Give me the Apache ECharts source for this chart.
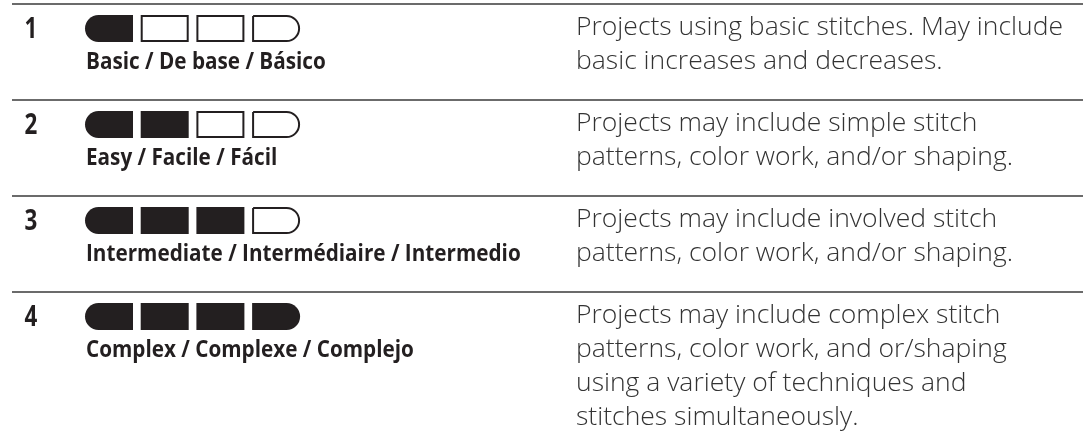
<!DOCTYPE html>
<html>
<head>
<meta charset="utf-8">
<script src="https://cdn.jsdelivr.net/npm/echarts@6/dist/echarts.min.js"></script>
<style>
html,body{margin:0;padding:0;background:#fff;}
#chart{width:1083px;height:447px;}
</style>
</head>
<body>
<div id="chart"></div>
<script>
const levels = ['1', '2', '3', '4'];
const levelNames = [
  'Basic / De base / Básico',
  'Easy / Facile / Fácil',
  'Intermediate / Intermédiaire / Intermedio',
  'Complex / Complexe / Complejo'
];
const filledBoxes = [1, 2, 3, 4];
const totalBoxes = 4;
const descriptions = [
  'Projects using basic stitches. May include\nbasic increases and decreases.',
  'Projects may include simple stitch\npatterns, color work, and/or shaping.',
  'Projects may include involved stitch\npatterns, color work, and/or shaping.',
  'Projects may include complex stitch\npatterns, color work, and or/shaping\nusing a variety of techniques and\nstitches simultaneously.'
];

const DARK = '#231f20';
const BODY = '"Open Sans", sans-serif';
const HEAD_FONT = '"Open Sans", sans-serif';

const chart = echarts.init(document.getElementById('chart'), null, {renderer: 'canvas'});

function condText(txt, x, y, size, align, scale) {
  return {
    type: 'text',
    x: x, y: y, scaleX: scale,
    style: {
      text: txt, x: 0, y: 0,
      fontFamily: HEAD_FONT, fontWeight: 'bold', fontSize: size,
      fill: DARK, align: align, verticalAlign: 'middle'
    }
  };
}

function renderItem(params, api) {
  const row = api.value(1);
  const filled = api.value(2);
  const top = api.coord([0, row])[1];
  const children = [];
  children.push({
    type: 'line',
    shape: {x1: 12, y1: top, x2: 1083, y2: top},
    style: {stroke: '#3a3a3a', lineWidth: 1.5}
  });
  children.push(condText(levels[row], 31, top + 26, 28, 'center', 0.8));
  const bx = 85, bw = 48, bstep = 55.7, bh = 27, by = top + 11, rad = 13.5;
  for (let k = 0; k < totalBoxes; k++) {
    const x = bx + k * bstep;
    let r = 0;
    if (k === 0) r = [rad, 0, 0, rad];
    else if (k === totalBoxes - 1) r = [0, rad, rad, 0];
    if (k < filled) {
      children.push({
        type: 'rect',
        shape: {x: x, y: by, width: bw, height: bh, r: r},
        style: {fill: DARK}
      });
    } else {
      let r2 = r;
      if (Array.isArray(r)) r2 = r.map(v => v ? v - 1 : 0);
      children.push({
        type: 'rect',
        shape: {x: x + 1, y: by + 1, width: bw - 2, height: bh - 2, r: r2},
        style: {fill: '#fff', stroke: DARK, lineWidth: 2}
      });
    }
  }
  children.push(condText(levelNames[row], 86, top + 58, 23, 'left', 0.9));
  const lines = descriptions[row].split('\n');
  lines.forEach((ln, j) => {
    children.push({
      type: 'text',
      style: {
        text: ln, x: 576, y: top + 23 + j * 34,
        fontFamily: BODY, fontWeight: 300, fontSize: 26.5,
        fill: '#333333', align: 'left', verticalAlign: 'middle'
      }
    });
  });
  return {type: 'group', children: children};
}

chart.setOption({
  animation: false,
  backgroundColor: '#ffffff',
  grid: {left: 0, right: 0, top: 4, bottom: 0},
  xAxis: {type: 'value', min: 0, max: 1, show: false},
  yAxis: {type: 'value', min: 0, max: 443 / 96, inverse: true, show: false},
  series: [{
    type: 'custom',
    coordinateSystem: 'cartesian2d',
    clip: false,
    encode: {x: 0, y: 1},
    data: levels.map((l, i) => [0, i, filledBoxes[i]]),
    renderItem: renderItem
  }]
});
</script>
</body>
</html>
